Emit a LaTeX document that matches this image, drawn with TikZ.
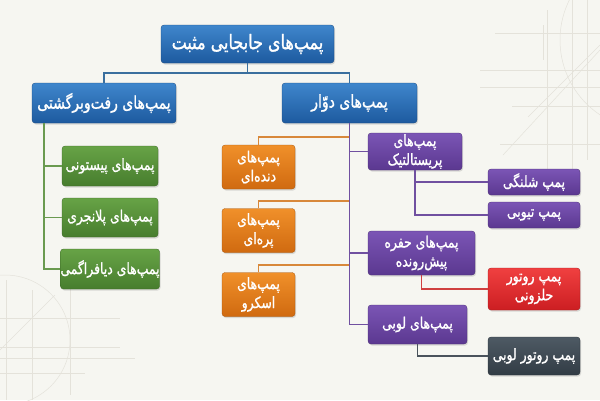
\documentclass[tikz,border=0pt]{standalone}
\usepackage{fontspec}
\newfontfamily\arabicfont[Script=Arabic, FakeBold=1.2, FakeStretch=0.8]{DejaVu Sans}
\TeXXeTstate=1
\usetikzlibrary{shadows}
\definecolor{bgc}{HTML}{F6F6F1}
\definecolor{deco}{HTML}{E4E2DA}
\definecolor{blueT}{HTML}{3F86CC}
\definecolor{blueB}{HTML}{1D5A9F}
\definecolor{greenT}{HTML}{67A346}
\definecolor{greenB}{HTML}{477D2E}
\definecolor{orangeT}{HTML}{F0902A}
\definecolor{orangeB}{HTML}{D06A10}
\definecolor{purpleT}{HTML}{7B55B5}
\definecolor{purpleB}{HTML}{5B3890}
\definecolor{redT}{HTML}{F04040}
\definecolor{redB}{HTML}{CC1E22}
\definecolor{grayT}{HTML}{4E5A64}
\definecolor{grayB}{HTML}{323C45}
\definecolor{blueL}{HTML}{3A6F9E}
\definecolor{greenL}{HTML}{6A9A50}
\definecolor{orangeL}{HTML}{D8883A}
\definecolor{purpleL}{HTML}{7050A0}
\definecolor{redL}{HTML}{D04040}
\definecolor{grayL}{HTML}{4A535C}
\tikzset{
  box/.style={rectangle, rounded corners=3pt, inner sep=0pt, text=white,
    align=center, drop shadow={shadow xshift=1pt, shadow yshift=-1.5pt, opacity=0.25}},
  bluebox/.style={box, top color=blueT, bottom color=blueB, draw=blueB!80!black, line width=0.3pt},
  greenbox/.style={box, top color=greenT, bottom color=greenB, draw=greenB!80!black, line width=0.3pt},
  orangebox/.style={box, top color=orangeT, bottom color=orangeB, draw=orangeB!80!black, line width=0.3pt},
  purplebox/.style={box, top color=purpleT, bottom color=purpleB, draw=purpleB!80!black, line width=0.3pt},
  redbox/.style={box, top color=redT, bottom color=redB, draw=redB!80!black, line width=0.3pt},
  graybox/.style={box, top color=grayT, bottom color=grayB, draw=grayB!80!black, line width=0.3pt},
  fbig/.style={font=\arabicfont\fontsize{20}{23}\selectfont},
  fmid/.style={font=\arabicfont\fontsize{17.5}{20}\selectfont},
  fsm/.style={font=\arabicfont\fontsize{15.5}{19}\selectfont},
  conn/.style={line width=1.2pt},
  decoline/.style={draw=deco, line width=0.5pt},
}
\newcommand{\rl}[1]{\beginR #1\endR}
\begin{document}
\begin{tikzpicture}[x=1pt,y=-1pt]
\fill[bgc] (0,0) rectangle (600,400);
\useasboundingbox (0,0) rectangle (600,400);
% faint background drafting lines
\begin{scope}
\clip (0,0) rectangle (600,400);
\draw[decoline] (5,340) circle (65);
\draw[decoline] (0,318) -- (120,318);
\draw[decoline] (0,347) -- (120,347);
\draw[decoline] (0,358) -- (135,358);
\draw[decoline] (0,373) -- (85,373);
\draw[decoline] (6,280) -- (6,400);
\draw[decoline] (32,290) -- (32,400);
\draw[decoline] (70,280) -- (70,395);
\draw[decoline] (0,350) -- (55,295);
\draw[decoline] (650,40) circle (90);
\draw[decoline] (547,10) -- (547,170);
\draw[decoline] (543,25) -- (543,60);
\draw[decoline] (572,0) -- (572,170);
\draw[decoline] (587,0) -- (587,160);
\draw[decoline] (495,33) -- (600,33);
\draw[decoline] (480,70) -- (600,70);
\draw[decoline] (480,87) -- (600,87);
\draw[decoline] (512,106) -- (600,106);
\draw[decoline] (500,144) -- (600,144);
\draw[decoline] (503,155) -- (600,50);
\draw[decoline] (528,117) -- (600,45);
\end{scope}
\coordinate (bus) at (247.5,73);
\coordinate (gtrunk) at (44,123);
\coordinate (ob1) at (349.5,137);
\coordinate (ob2) at (349.5,201);
\coordinate (ob3) at (349.5,265);
\node[bluebox, fbig, minimum width=173pt, minimum height=38pt] (root) at (247.5,44) {\rl{پمپ‌های جابجایی مثبت}};
\node[bluebox, fmid, minimum width=144pt, minimum height=40pt] (rec) at (104,103) {\rl{پمپ‌های رفت‌وبرگشتی}};
\node[bluebox, fmid, minimum width=135pt, minimum height=40pt] (rot) at (349.5,103) {\rl{پمپ‌های دوّار}};
\node[greenbox, fsm, minimum width=96pt, minimum height=40pt] (g1) at (110,166) {\rl{پمپ‌های پیستونی}};
\node[greenbox, fsm, minimum width=96pt, minimum height=39pt] (g2) at (110,217.5) {\rl{پمپ‌های پلانجری}};
\node[greenbox, fsm, minimum width=96pt, minimum height=40pt] (g3) at (110,269) {\rl{پمپ‌های دیافراگمی}};
\node[orangebox, fsm, minimum width=73pt, minimum height=44pt] (o1) at (258.5,167) {\rl{پمپ‌های}\\\rl{دنده‌ای}};
\node[orangebox, fsm, minimum width=73pt, minimum height=44pt] (o2) at (258.5,230.5) {\rl{پمپ‌های}\\\rl{پره‌ای}};
\node[orangebox, fsm, minimum width=73pt, minimum height=44pt] (o3) at (258.5,294.5) {\rl{پمپ‌های}\\\rl{اسکرو}};
\node[purplebox, fsm, minimum width=94pt, minimum height=37pt] (p1) at (415,151.5) {\rl{پمپ‌های}\\\rl{پریستالتیک}};
\node[purplebox, fsm, minimum width=107pt, minimum height=44pt] (p2) at (421.5,253) {\rl{پمپ‌های حفره}\\\rl{پیش‌رونده}};
\node[purplebox, fsm, minimum width=99pt, minimum height=39pt] (p3) at (417.5,324.5) {\rl{پمپ‌های لوبی}};
\node[purplebox, fsm, minimum width=92pt, minimum height=26pt] (s1) at (534,182) {\rl{پمپ شلنگی}};
\node[purplebox, fsm, minimum width=92pt, minimum height=26pt] (s2) at (534,215) {\rl{پمپ تیوبی}};
\node[redbox, fsm, minimum width=92pt, minimum height=42pt] (r1) at (534,289) {\rl{پمپ روتور}\\\rl{حلزونی}};
\node[graybox, fsm, minimum width=92pt, minimum height=38pt] (k1) at (534,356) {\rl{پمپ روتور لوبی}};
\draw[conn, blueL] (root.south) -- (bus);
\draw[conn, blueL] (rec.north) |- (bus);
\draw[conn, blueL] (rot.north) |- (bus);
\draw[conn, greenL] (gtrunk) |- (g1.west);
\draw[conn, greenL] (gtrunk) |- (g2.west);
\draw[conn, greenL] (gtrunk) |- (g3.west);
\draw[conn, orangeL] (o1.north) |- (ob1);
\draw[conn, orangeL] (o2.north) |- (ob2);
\draw[conn, orangeL] (o3.north) |- (ob3);
\draw[conn, purpleL] (rot.south) |- (p1.west);
\draw[conn, purpleL] (rot.south) |- (p2.west);
\draw[conn, purpleL] (rot.south) |- (p3.west);
\draw[conn, purpleL] (p1.south) |- (s1.west);
\draw[conn, purpleL] (p1.south) |- (s2.west);
\draw[conn, redL] (p2.south) |- (r1.west);
\draw[conn, grayL] (p3.south) |- (k1.west);
\end{tikzpicture}
\end{document}
